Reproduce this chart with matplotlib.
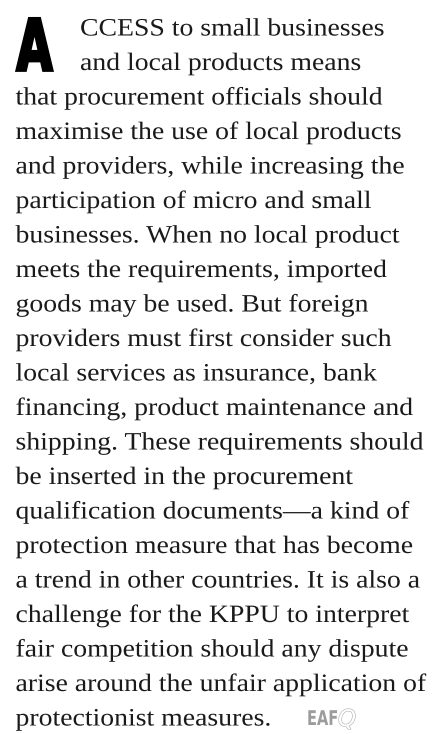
import matplotlib
matplotlib.use("Agg")
import matplotlib.pyplot as plt
from matplotlib.patheffects import AbstractPathEffect, Stroke, Normal
from matplotlib.transforms import Affine2D

# text of the paragraph, one entry per printed line
drop_cap = "A"
lines = [
    "CCESS to small businesses",
    "and local products means",
    "that procurement officials should",
    "maximise the use of local products",
    "and providers, while increasing the",
    "participation of micro and small",
    "businesses. When no local product",
    "meets the requirements, imported",
    "goods may be used. But foreign",
    "providers must first consider such",
    "local services as insurance, bank",
    "financing, product maintenance and",
    "shipping. These requirements should",
    "be inserted in the procurement",
    "qualification documents\u2014a kind of",
    "protection measure that has become",
    "a trend in other countries. It is also a",
    "challenge for the KPPU to interpret",
    "fair competition should any dispute",
    "arise around the unfair application of",
    "protectionist measures.",
]
logo = "EAF"
logo_q = "Q"


# widen / squeeze glyphs sideways, optionally fatten them with a stroke
class HStretch(AbstractPathEffect):
    def __init__(self, sx, lw=0):
        super().__init__()
        self.sx = sx
        self.lw = lw

    def draw_path(self, renderer, gc, tpath, affine, rgbFace=None):
        x0, y0 = affine.transform((0, 0))
        t = affine + Affine2D().translate(-x0, 0).scale(self.sx, 1).translate(x0, 0)
        if self.lw > 0:
            gc2 = renderer.new_gc()
            gc2.copy_properties(gc)
            gc2.set_linewidth(self.lw)
            gc2.set_foreground(rgbFace)
            gc2.set_joinstyle("miter")
            renderer.draw_path(gc2, tpath, t, rgbFace)
            gc2.restore()
        else:
            renderer.draw_path(gc, tpath, t, rgbFace)


fig = plt.figure(figsize=(4.33, 7.34), dpi=100)
ax = fig.add_axes([0, 0, 1, 1])
ax.set_xlim(0, 433)
ax.set_ylim(734, 0)
ax.axis("off")

body = dict(family="Liberation Serif", fontsize=18, color="#1a1a1a", va="baseline",
            ha="left", path_effects=[HStretch(1.11)])
step = 34.5
top = 35.5

for i, s in enumerate(lines):
    x = 80 if i < 2 else 15.5
    ax.text(x, top + i * step, s, **body)

# drop cap
ax.text(16.5, 70.5, drop_cap, family="DejaVu Sans", weight="bold", fontsize=51.5,
        color="black", va="baseline", ha="left", path_effects=[HStretch(0.65, lw=2)])

# little end mark
ax.text(307, 725, logo, family="DejaVu Sans", weight="bold", fontsize=14.6,
        color="#9c9c9c", va="baseline", ha="left", path_effects=[HStretch(0.72)])
ax.text(338, 726, logo_q, family="DejaVu Sans", fontstyle="oblique", fontsize=16.5,
        color="white", va="baseline", ha="left",
        path_effects=[Stroke(linewidth=0.9, foreground="#b4b4b4"), Normal()])

plt.savefig("out.png", dpi=100)
